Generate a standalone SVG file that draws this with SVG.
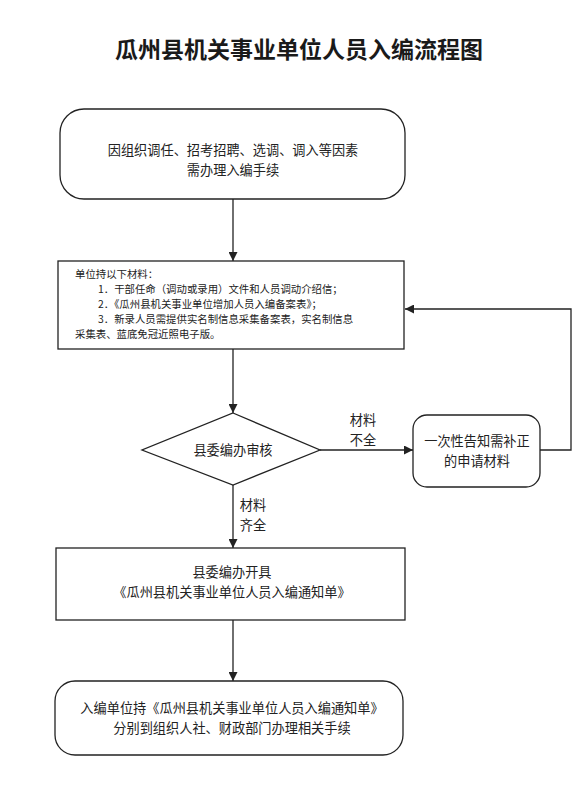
<svg xmlns="http://www.w3.org/2000/svg" width="582" height="800" viewBox="0 0 582 800">
<style>
  .shape { fill: #ffffff; stroke: #222222; stroke-width: 1.3; }
  .conn { fill: none; stroke: #222222; stroke-width: 1.3; }
  .t { font-family: "Noto Sans CJK SC", "Noto Sans", sans-serif; font-size: 13.2px; fill: #222222; text-anchor: middle; }
  .m { font-family: "Noto Sans CJK SC", "Noto Sans", sans-serif; font-size: 10.4px; fill: #222222; }
  .title { font-family: "Noto Sans CJK SC", sans-serif; font-size: 23px; font-weight: 700; fill: #1a1a1a; text-anchor: middle; }
</style>
<defs>
  <marker id="arr" viewBox="0 0 10 10" refX="10" refY="5" markerWidth="9" markerHeight="9" markerUnits="userSpaceOnUse" orient="auto">
    <path d="M0,0 L10,5 L0,10 z" fill="#222222"/>
  </marker>
</defs>
<rect width="582" height="800" fill="#ffffff"/>
<text class="title" x="299" y="58">瓜州县机关事业单位人员入编流程图</text>

<g id="connectors">
  <line class="conn" x1="233" y1="199" x2="233" y2="261" marker-end="url(#arr)"/>
  <line class="conn" x1="233" y1="349" x2="233" y2="413" marker-end="url(#arr)"/>
  <line class="conn" x1="320" y1="450" x2="413" y2="450" marker-end="url(#arr)"/>
  <polyline class="conn" points="540,450 571,450 571,309 405,309" marker-end="url(#arr)"/>
  <line class="conn" x1="233" y1="485" x2="233" y2="548" marker-end="url(#arr)"/>
  <line class="conn" x1="233" y1="620" x2="233" y2="681" marker-end="url(#arr)"/>
  <text class="t" x="363" y="425">材料</text>
  <text class="t" x="363" y="445">不全</text>
  <text class="t" x="253" y="510">材料</text>
  <text class="t" x="253" y="530">齐全</text>
</g>

<g id="start">
  <rect class="shape" x="60" y="109" width="345" height="90" rx="24" ry="24"/>
  <text class="t" x="233" y="155">因组织调任、招考招聘、选调、调入等因素</text>
  <text class="t" x="233" y="175">需办理入编手续</text>
</g>

<g id="materials">
  <rect class="shape" x="58" y="261" width="346" height="88"/>
  <text class="m" x="75" y="278">单位持以下材料：</text>
  <text class="m" x="98" y="293">1．干部任命（调动或录用）文件和人员调动介绍信；</text>
  <text class="m" x="98" y="308">2．《瓜州县机关事业单位增加人员入编备案表》；</text>
  <text class="m" x="98" y="323">3．新录人员需提供实名制信息采集备案表，实名制信息</text>
  <text class="m" x="75" y="338">采集表、蓝底免冠近照电子版。</text>
</g>

<g id="review">
  <polygon class="shape" points="233,413 320,450 233,485 142,450"/>
  <text class="t" x="233" y="455">县委编办审核</text>
</g>

<g id="notify">
  <rect class="shape" x="413" y="415" width="127" height="72" rx="14" ry="14"/>
  <text class="t" x="477" y="446">一次性告知需补正</text>
  <text class="t" x="477" y="466">的申请材料</text>
</g>

<g id="issue">
  <rect class="shape" x="56" y="548" width="349" height="72"/>
  <text class="t" x="232" y="577">县委编办开具</text>
  <text class="t" x="232" y="597">《瓜州县机关事业单位人员入编通知单》</text>
</g>

<g id="finish">
  <rect class="shape" x="55" y="681" width="348" height="74" rx="20" ry="20"/>
  <text class="t" x="232" y="713">入编单位持《瓜州县机关事业单位人员入编通知单》</text>
  <text class="t" x="232" y="733">分别到组织人社、财政部门办理相关手续</text>
</g>
</svg>
